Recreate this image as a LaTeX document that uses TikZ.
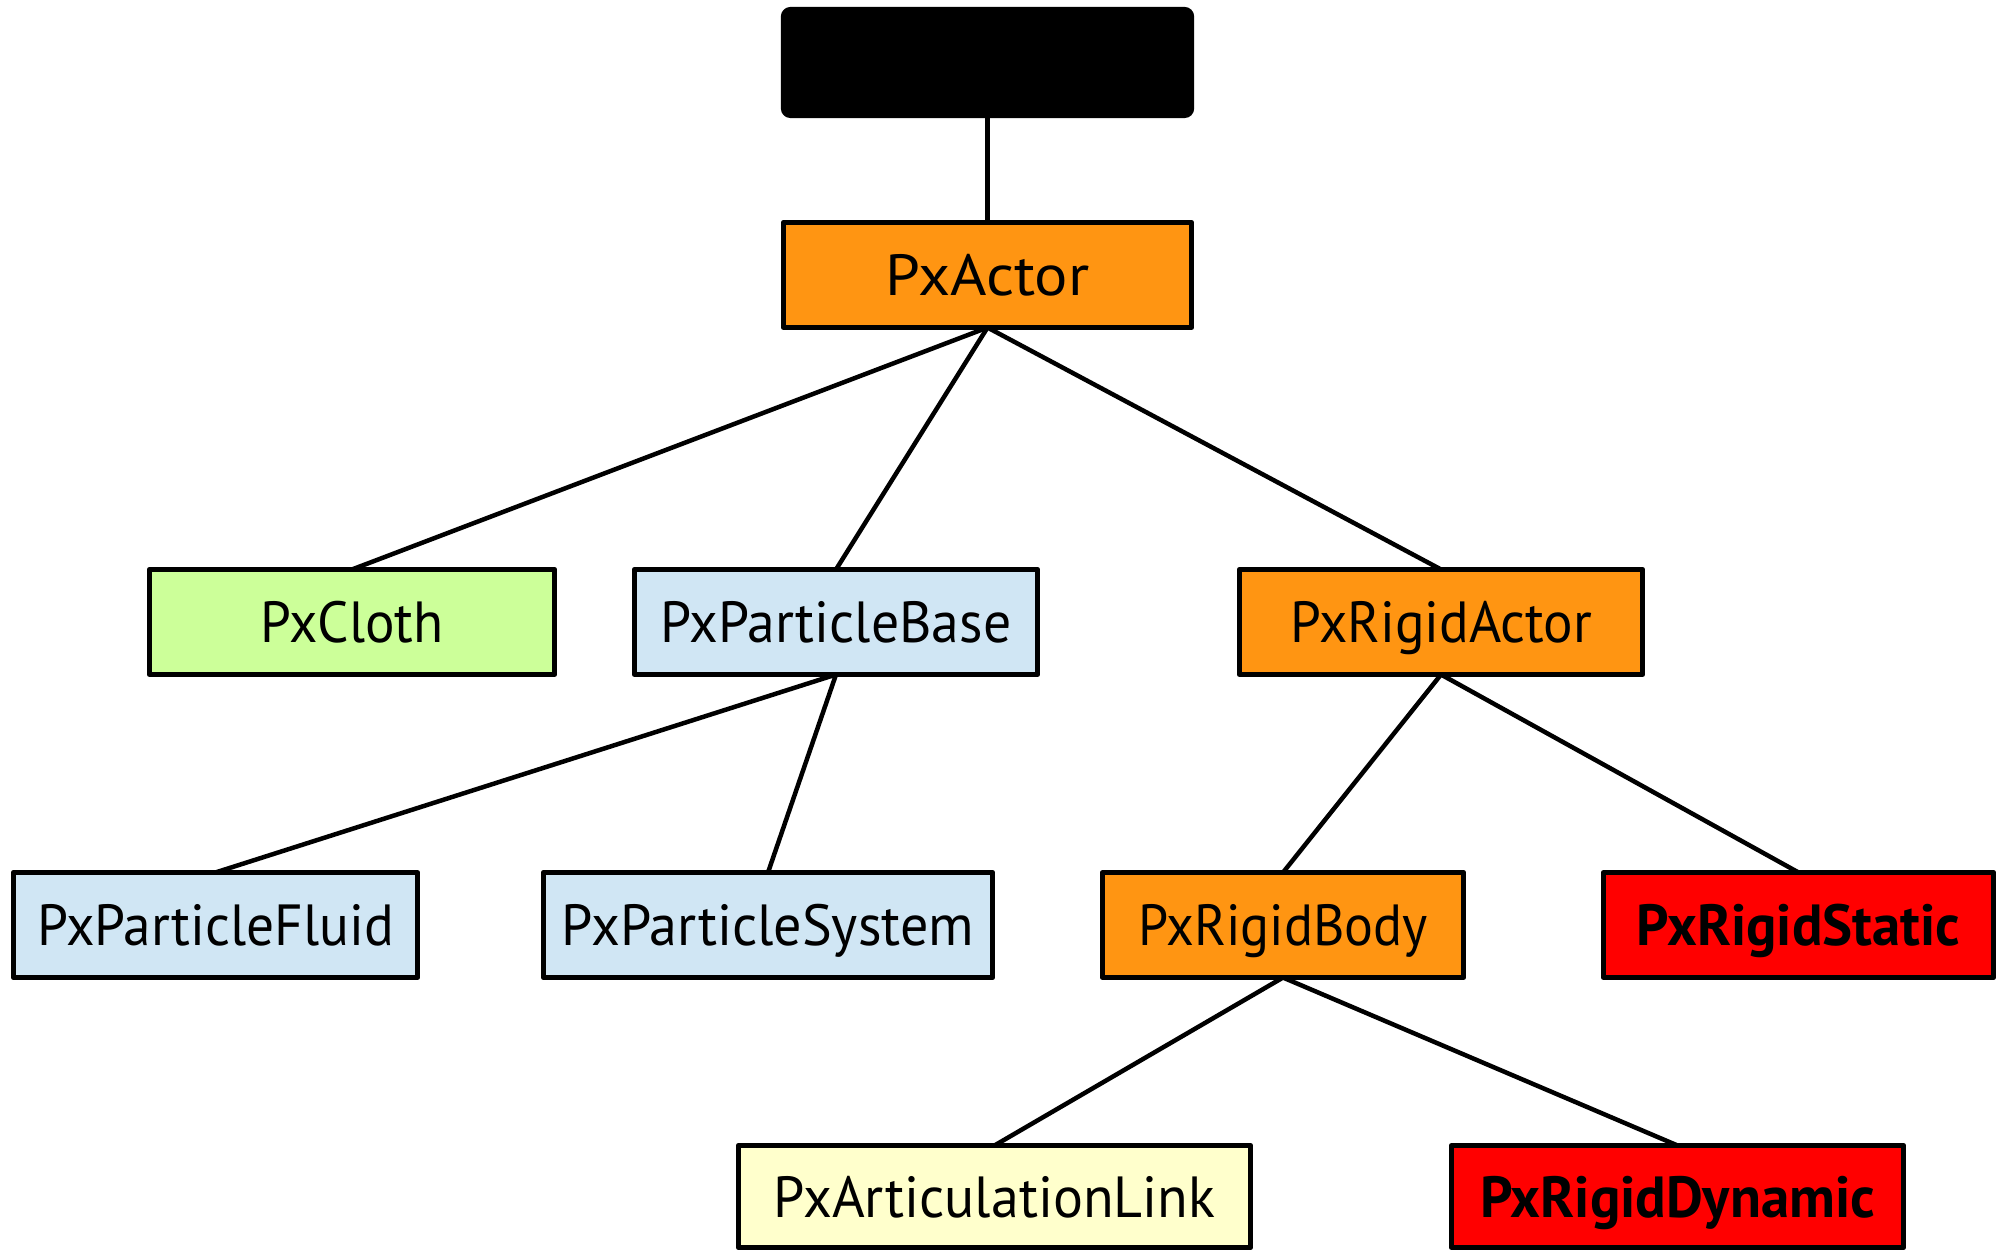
\documentclass[tikz,border=0pt]{standalone}
\usepackage{graphicx}
\usepackage{fontspec}
\setmainfont{PT Sans}
\definecolor{orangec}{HTML}{FF9512}
\definecolor{greenc}{HTML}{CCFF99}
\definecolor{bluec}{HTML}{D0E6F4}
\definecolor{yellowc}{HTML}{FFFFCC}
\definecolor{redc}{HTML}{FF0000}
\newcommand{\lbl}[2]{\scalebox{#1}[1]{#2}}
\begin{document}
\begin{tikzpicture}[x=0.01cm,y=-0.01cm,
  box/.style={draw=black, line width=0.05cm, line join=round, inner sep=0pt, outer sep=0pt,
    minimum height=1.04cm, text height=0.41cm, text depth=0pt,
    font=\fontsize{16.5pt}{20pt}\selectfont},
  boldbox/.style={box, font=\fontsize{16.5pt}{20pt}\selectfont\bfseries},
  link/.style={draw=black, line width=0.045cm}]
\useasboundingbox (0,0) rectangle (2001,1249);
\clip (0,0) rectangle (2001,1249);
\node[box, fill=black, rounded corners=2pt, minimum width=4.08cm, minimum height=1.06cm] (top) at (987.5,62.5) {};
\node[box, fill=orangec, minimum width=4.08cm, minimum height=1.05cm] (actor) at (987.5,275) {\lbl{1.075}{PxActor}};
\node[box, fill=greenc, minimum width=4.05cm, minimum height=1.05cm] (cloth) at (352,622) {\lbl{0.95}{PxCloth}};
\node[box, fill=bluec, minimum width=4.03cm, minimum height=1.05cm] (pbase) at (836,622) {\lbl{0.96}{PxParticleBase}};
\node[box, fill=orangec, minimum width=4.03cm, minimum height=1.05cm] (ractor) at (1441,622) {\lbl{0.95}{PxRigidActor}};
\node[box, fill=bluec, minimum width=4.04cm, minimum height=1.05cm] (pfluid) at (215.5,925) {\lbl{0.955}{PxParticleFluid}};
\node[box, fill=bluec, minimum width=4.49cm, minimum height=1.05cm] (psys) at (768,925) {\lbl{0.966}{PxParticleSystem}};
\node[box, fill=orangec, minimum width=3.61cm, minimum height=1.05cm] (rbody) at (1283,925) {\lbl{0.93}{PxRigidBody}};
\node[boldbox, fill=redc, minimum width=3.90cm, minimum height=1.05cm] (rstatic) at (1798.5,925) {\lbl{0.977}{PxRigidStatic}};
\node[box, fill=yellowc, minimum width=5.12cm, minimum height=1.02cm] (alink) at (994.5,1196.5) {\lbl{0.965}{PxArticulationLink}};
\node[boldbox, fill=redc, minimum width=4.52cm, minimum height=1.02cm] (rdyn) at (1677.5,1196.5) {\lbl{0.98}{PxRigidDynamic}};
\draw[link] (top.south) -- (actor.north);
\draw[link] (actor.south) -- (cloth.north);
\draw[link] (actor.south) -- (pbase.north);
\draw[link] (actor.south) -- (ractor.north);
\draw[link] (pbase.south) -- (pfluid.north);
\draw[link] (pbase.south) -- (psys.north);
\draw[link] (ractor.south) -- (rbody.north);
\draw[link] (ractor.south) -- (rstatic.north);
\draw[link] (rbody.south) -- (alink.north);
\draw[link] (rbody.south) -- (rdyn.north);
\end{tikzpicture}
\end{document}
